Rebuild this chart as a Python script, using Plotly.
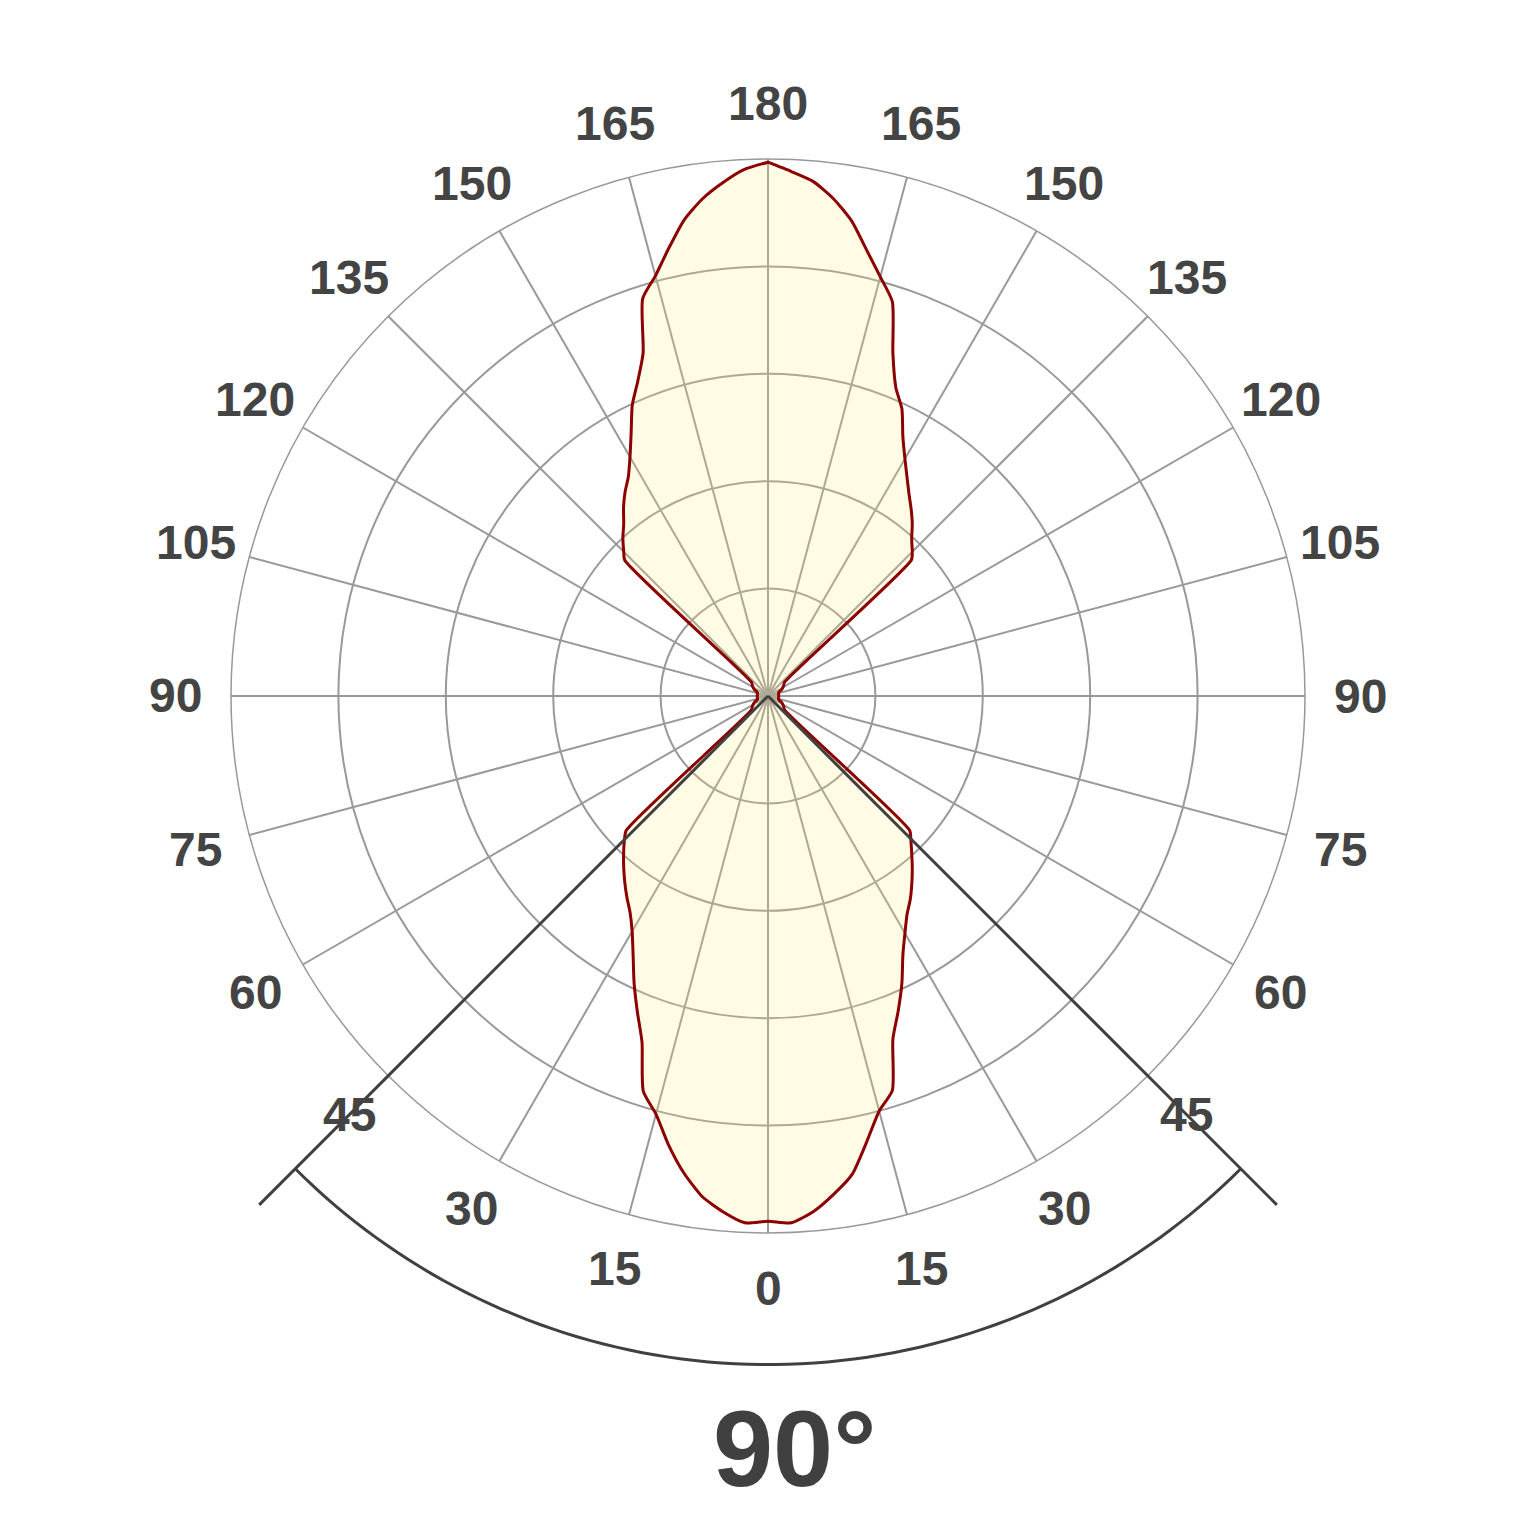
import numpy as np
import plotly.graph_objects as go

# Polar light distribution, 90° beam
BEAM_ANGLE = 90

# gamma angle (deg) from the nadir/zenith, shared by all four quarters
GAMMA = [0, 2.5, 5, 7.5, 10, 12.5, 15, 17.5, 20, 22.5, 25, 27.5, 30, 32.5,
         35, 37.5, 40, 42.5, 45, 46.5, 50, 55, 60, 65, 70, 75, 80, 85, 90]

# intensity per quarter (lower = downward lobe, upper = upward lobe)
LOWER_RIGHT = [489, 491, 482, 468, 452, 425, 400, 385, 340, 317, 295, 272, 255, 241,
               231, 220, 209, 198, 188, 182, 20, 18, 16, 14, 11, 10, 10, 10, 10]
LOWER_LEFT = [489, 491, 482, 470, 451, 428, 403, 386, 343, 318, 295, 272, 253, 239,
              229, 219, 209, 199, 189, 182, 20, 18, 16, 14, 11, 10, 10, 10, 10]
UPPER_RIGHT = [497, 489, 481, 467, 449, 425, 404, 385, 340, 311, 295, 272, 255, 241,
               229, 219, 209, 198, 190, 184, 20, 18, 16, 14, 11, 10, 10, 10, 10]
UPPER_LEFT = [497, 491, 480, 467, 450, 427, 405, 388, 340, 317, 299, 276, 257, 242,
              232, 221, 209, 200, 190, 184, 20, 18, 16, 14, 11, 10, 10, 10, 10]

R_MAX = 500
R_STEP = 100

TICK_ANGLES = list(range(0, 360, 15))
TICK_TEXT = [str(min(a, 360 - a)) for a in TICK_ANGLES]

# walk round the curve: 0 (down) -> 90 right -> 180 up -> 270 left -> 360
theta = (GAMMA
         + [180 - g for g in reversed(GAMMA)]
         + [180 + g for g in GAMMA]
         + [360 - g for g in reversed(GAMMA)])
r = LOWER_RIGHT + UPPER_RIGHT[::-1] + UPPER_LEFT + LOWER_LEFT[::-1]

W = H = 1536
BODY = 8  # default page margin around the plot div
M_L, M_T = 223, 151
side = 1074  # square plot area
M_R = W - M_L - side
M_B = H - M_T - side

FONT = "Liberation Sans, Arial"
DARK = "#404040"
GRID = "#999999"

fig = go.Figure()
fig.add_trace(go.Scatterpolar(
    r=r,
    theta=theta,
    mode="lines",
    fill="toself",
    fillcolor="rgba(255,236,120,0.2)",
    line=dict(color="#8b0000", width=3, shape="spline", smoothing=0.6),
    hoverinfo="skip",
    showlegend=False,
))


def polar_paper(gamma, k):
    # paper coords of a point at angle gamma (0 = down, to the right on screen) and k * outer radius
    a = np.radians(gamma)
    return 0.5 + 0.5 * k * np.sin(a), 0.5 - 0.5 * k * np.cos(a)


half = BEAM_ANGLE / 2
shapes = []
for g in (-half, half):
    x1, y1 = polar_paper(g, 1.34)
    shapes.append(dict(type="line", xref="paper", yref="paper", x0=0.5, y0=0.5,
                       x1=x1, y1=y1, line=dict(color=DARK, width=3), layer="above"))
arc = [polar_paper(g, 1.245) for g in np.linspace(-half, half, 80)]
path = "M " + " L ".join(f"{x:.5f},{y:.5f}" for x, y in arc)
shapes.append(dict(type="path", xref="paper", yref="paper", path=path,
                   line=dict(color=DARK, width=3), layer="above"))

# angle labels centred on their spokes, just outside the outer ring
annotations = []
for a, txt in zip(TICK_ANGLES, TICK_TEXT):
    x, y = polar_paper(a, 1.103)
    annotations.append(dict(text=txt, x=x, y=y, xref="paper", yref="paper",
                            xanchor="center", yanchor="middle", showarrow=False,
                            font=dict(family=FONT, size=48, color="#444444", weight="bold")))

annotations.append(dict(
    text=f"{BEAM_ANGLE}°",
    xref="paper", yref="paper",
    x=(794 - M_L - BODY) / side, y=(M_T + BODY + side - 1448) / side,
    xanchor="center", yanchor="middle",
    showarrow=False,
    font=dict(family=FONT, size=108, color=DARK, weight="bold"),
))

fig.update_layout(
    width=W,
    height=H,
    autosize=False,
    margin=dict(l=M_L, r=M_R, t=M_T, b=M_B),
    paper_bgcolor="white",
    plot_bgcolor="white",
    shapes=shapes,
    annotations=annotations,
    polar=dict(
        bgcolor="rgba(0,0,0,0)",
        radialaxis=dict(
            range=[0, R_MAX],
            dtick=R_STEP,
            showticklabels=False,
            ticks="",
            showline=False,
            gridcolor=GRID,
            gridwidth=1.5,
        ),
        angularaxis=dict(
            rotation=270,
            direction="counterclockwise",
            tickmode="array",
            tickvals=TICK_ANGLES,
            showticklabels=False,
            ticks="",
            showline=True,
            linecolor=GRID,
            linewidth=1.5,
            gridcolor=GRID,
            gridwidth=1.5,
        ),
    ),
)

fig.write_html("out.html")
